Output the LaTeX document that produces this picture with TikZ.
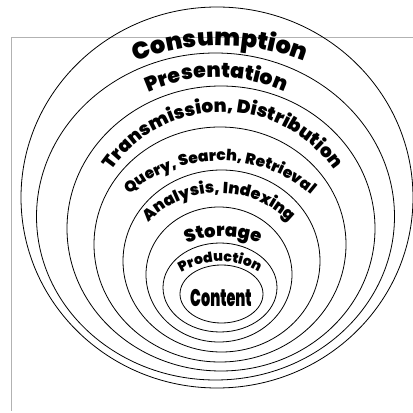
\documentclass[tikz,border=0pt]{standalone}
\usepackage{fontspec}
\usetikzlibrary{decorations.text}
\IfFontExistsTF{Poppins Black}
  {\newfontfamily\ringface{Poppins Black}
   \newfontfamily\coreface[FakeStretch=0.6]{Poppins Black}}
  {\newfontfamily\ringface[FakeBold=2.2]{DejaVu Sans Bold}
   \newfontfamily\coreface[FakeStretch=0.72]{Liberation Sans Bold}}
\newcommand\ringsize[1]{\ringface\fontsize{#1}{#1}\selectfont}
\tikzset{
  ring/.style = {draw=black, line width=0.8pt},% one layer of the onion
  frameline/.style = {draw=black!30, line width=0.8pt},% page border
  ringtext/.style = {decorate, decoration={text along path,
    text align=center, text={#1}}},% label bent over a layer
  corelabel/.style = {inner sep=0pt,
    font=\coreface\fontsize{24}{24}\selectfont}% label in the core
}
\begin{document}
\begin{tikzpicture}[x=1pt,y=1pt]
        \useasboundingbox (0,0) rectangle (413,413);
        \draw[frameline] (413,375.5) -- (11,375.5) -- (11,2);

        \draw[ring] (217,215.5) ellipse[x radius=196, y radius=190.5];
        \draw[ring] (215.5,196.5) ellipse[x radius=179, y radius=163.5];
        \draw[ring] (221,184.5) ellipse[x radius=154, y radius=142.5];
        \draw[ring] (220,168.5) ellipse[x radius=126, y radius=117.5];
        \draw[ring] (221.5,152) ellipse[x radius=98.5, y radius=91];
        \draw[ring] (219,138.5) ellipse[x radius=73, y radius=67.5];
        \draw[ring] (220,125.5) ellipse[x radius=57, y radius=44.5];
        \draw[ring] (221.5,119) ellipse[x radius=41.5, y radius=29];

        \path[ringtext={|\ringsize{24}|Consumption}]
          ([shift={(220,137.5)}]150:230) arc[start angle=150, end angle=30, radius=230];
        \path[ringtext={|\ringsize{20.5}|Presentation}]
          ([shift={(216.5,170.5)}]145:165) arc[start angle=145, end angle=35, radius=165];
        \path[ringtext={|\ringsize{18.5}|Transmission, Distribution}]
          ([shift={(223,166)}]170:135) arc[start angle=170, end angle=10, radius=135];
        \path[ringtext={|\ringsize{15.5}|Query, Search, Retrieval}]
          ([shift={(220,112)}]160:140) arc[start angle=160, end angle=20, radius=140];
        \path[ringtext={|\ringsize{16}|Analysis, Indexing}]
          ([shift={(219,120)}]165:100) arc[start angle=165, end angle=15, radius=100];
        \path[ringtext={|\ringsize{18}|Storage}]
          ([shift={(223,81.5)}]150:95) arc[start angle=150, end angle=30, radius=95];
        \path[ringtext={|\ringsize{14}|Production}]
          ([shift={(220,76.5)}]150:75) arc[start angle=150, end angle=30, radius=75];

        \node[corelabel] (content) at (221,114.5) {Content};

\end{tikzpicture}
\end{document}
